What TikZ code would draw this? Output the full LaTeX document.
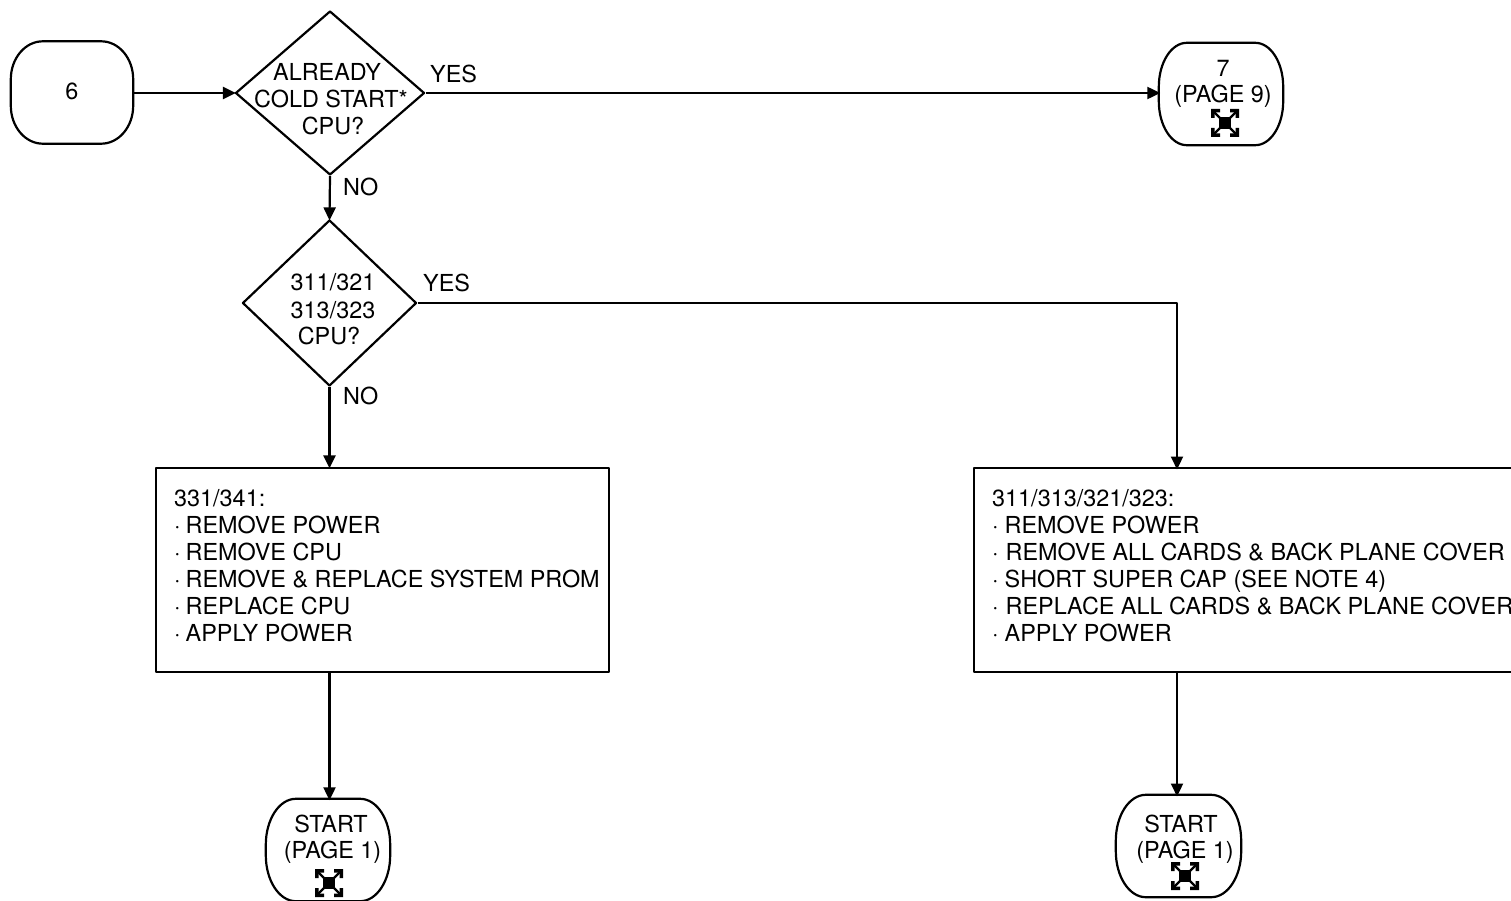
\documentclass[tikz,border=0pt]{standalone}
\usepackage{fontspec}
\setmainfont{TeX Gyre Heros}
\usetikzlibrary{shapes.geometric,arrows.meta}
\tikzset{
  x=1pt,y=-1pt,
  ln/.style={line width=2.2pt,black,line join=round},
  termbox/.style={rectangle,inner sep=0pt,minimum height=102pt},
  decision/.style={ln,draw,diamond,inner sep=0pt},
  procbox/.style={ln,draw,rectangle,inner sep=0pt,minimum height=204pt},
  txt/.style={inner sep=0pt,font=\fontsize{23.4}{27}\selectfont},
  lefttxt/.style={txt,anchor=north west,align=left},
  flow/.style={ln,-{Triangle[length=13pt,width=12pt]},shorten >=-1.5pt}
}
% outline of a terminal: flat top and bottom, elliptical corners of radii #2, #3
\newcommand{\termoutline}[3]{%
  \draw[ln] ([xshift=#2]#1.north west) -- ([xshift=-#2]#1.north east)
    arc[start angle=90,end angle=0,x radius=#2,y radius=#3]
    -- ([yshift=#3]#1.south east)
    arc[start angle=0,end angle=-90,x radius=#2,y radius=#3]
    -- ([xshift=#2]#1.south west)
    arc[start angle=270,end angle=180,x radius=#2,y radius=#3]
    -- ([yshift=-#3]#1.north west)
    arc[start angle=180,end angle=90,x radius=#2,y radius=#3]
    -- cycle;}
\newcommand{\fiticon}[1]{%
  \begin{scope}[shift={(#1)}]
    \fill (-6,-6) rectangle (6,6);
    \draw[line width=2.2pt] (-11,-11) -- (11,11) (-11,11) -- (11,-11);
    \fill (-14,-14) rectangle (-5,-10.5) (-14,-14) rectangle (-10.5,-5);
    \fill (14,-14) rectangle (5,-10.5) (14,-14) rectangle (10.5,-5);
    \fill (-14,14) rectangle (-5,10.5) (-14,14) rectangle (-10.5,5);
    \fill (14,14) rectangle (5,10.5) (14,14) rectangle (10.5,5);
  \end{scope}}
\newcommand{\bul}{·\kern5pt}
\begin{document}
\begin{tikzpicture}
\useasboundingbox (0,0) rectangle (1511,901);
% terminals
\node[termbox,minimum width=122pt] (six) at (72,92.5) {};
\node[termbox,minimum width=124pt] (seven) at (1221,94) {};
\node[termbox,minimum width=124pt] (startA) at (328,850) {};
\node[termbox,minimum width=125pt] (startB) at (1178.5,846) {};
\termoutline{six}{32pt}{38pt}
\termoutline{seven}{28pt}{44pt}
\termoutline{startA}{30pt}{46pt}
\termoutline{startB}{30pt}{46pt}
% decisions
\node[decision,shape aspect=1.15,minimum width=189pt,minimum height=164pt] (dA) at (330,93) {};
\node[decision,shape aspect=1.05,minimum width=174pt,minimum height=166pt] (dB) at (329.5,303) {};
% process boxes
\node[procbox,minimum width=453pt] (boxA) at (382.5,570) {};
\node[procbox,minimum width=560pt] (boxB) at (1254,570) {};
\coordinate (boxBin) at (1177,468);
\coordinate (boxBout) at (1177,672);
\coordinate (startBin) at (1177,795);
% connectors
\draw[flow] (six.east |- dA.west) -- (dA.west);
\draw[flow] (dA.east) -- (seven.west |- dA.east);
\draw[flow] (dA.south) -- (dB.north);
\draw[flow] (dB.south) -- (dB.south |- boxA.north);
\draw[flow] (dB.east) -| (boxBin);
\draw[flow] (dB.south |- boxA.south) -- (dB.south |- startA.north);
\draw[flow] (boxBout) -- (startBin);
% labels
\node[txt] (t6) at (72,91) {6};
\node[txt] (t7a) at (1223,68) {7};
\node[txt] (t7b) at (1223,96) {(PAGE 9)};
\node[txt] (ta1) at (331,824) {START};
\node[txt] (ta2) at (332.5,852) {(PAGE 1)};
\node[txt] (tb1) at (1181,824) {START};
\node[txt] (tb2) at (1185,852) {(PAGE 1)};
\node[txt] (q1) at (327,72) {ALREADY};
\node[txt] (q2) at (331,99) {COLD START*};
\node[txt] (q3) at (333,126) {CPU?};
\node[txt] (r1) at (333,282) {311/321};
\node[txt] (r2) at (333,310) {313/323};
\node[txt] (r3) at (329,336) {CPU?};
\node[txt,anchor=west] (yes1) at (430,74) {YES};
\node[txt,anchor=west] (no1) at (343,187) {NO};
\node[txt,anchor=west] (yes2) at (423,283) {YES};
\node[txt,anchor=west] (no2) at (343,396) {NO};
\node[lefttxt] (la) at (174,489.5) {331/341:\\\bul REMOVE POWER\\\bul REMOVE CPU\\\bul REMOVE \& REPLACE SYSTEM PROM\\\bul REPLACE CPU\\\bul APPLY POWER};
\node[lefttxt] (lb) at (992,489.5) {311/313/321/323:\\\bul\kern1pt REMOVE POWER\\\bul\kern2pt REMOVE ALL CARDS \& BACK PLANE COVER\\\bul\kern1pt SHORT SUPER CAP (SEE NOTE 4)\\\bul\kern2pt REPLACE ALL CARDS \& BACK PLANE COVER\\\bul\kern1pt APPLY POWER};
% icons
\fiticon{1225,123}
\fiticon{329,883}
\fiticon{1185,876}
\end{tikzpicture}
\end{document}
